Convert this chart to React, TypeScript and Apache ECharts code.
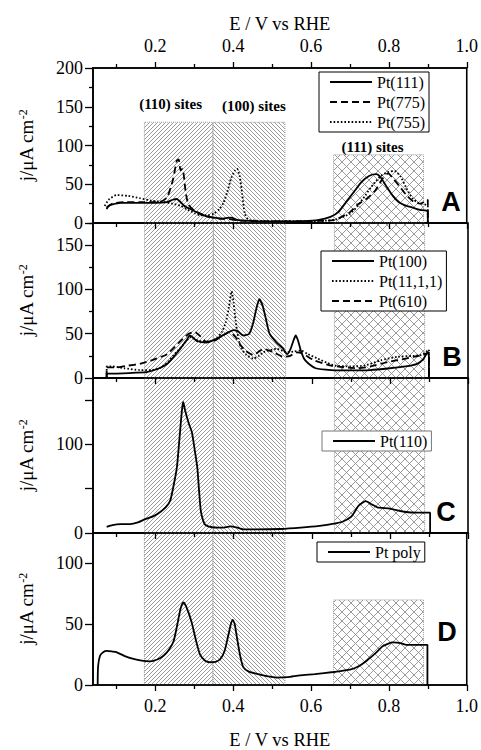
import React, { useEffect, useRef } from 'react';
import * as echarts from 'echarts';

// x axis: E / V vs RHE
const xMin = 0.04;
const xMax = 1.0;
const xMajor = [0.2, 0.4, 0.6, 0.8, 1.0];
const xMinor = [0.1, 0.3, 0.5, 0.7, 0.9];

// y axes, one per panel (A-D)
const panelLetters = ['A', 'B', 'C', 'D'];
const yMax = [200, 175, 175, 125];
const yMajor = [[0, 50, 100, 150, 200], [0, 50, 100, 150], [0, 50, 100, 150], [0, 50, 100]];
const yLabels = [[0, 50, 100, 150, 200], [0, 50, 100, 150], [0, 100], [0, 50, 100]];
const yMinor = [[25, 75, 125, 175], [25, 75, 125, 175], [], []];

// site regions
const siteNames = ['(110) sites', '(100) sites', '(111) sites'];
const siteFrom = [0.172, 0.348, 0.658];
const siteTo = [0.348, 0.533, 0.889];
const siteTopA = [130, 130, 88];
const siteTopD: (number | null)[] = [null, null, 70];

// panel A
const pt111 = [
  [0.075, 18], [0.08, 22], [0.09, 24], [0.11, 26], [0.15, 26], [0.2, 26], [0.23, 27], [0.245, 30],
  [0.255, 31], [0.265, 27], [0.275, 22], [0.29, 18], [0.31, 13], [0.33, 9], [0.35, 7], [0.37, 5.5],
  [0.385, 6.5], [0.395, 7], [0.41, 4], [0.43, 3], [0.5, 2], [0.58, 2.5], [0.62, 4], [0.65, 8],
  [0.67, 14], [0.69, 27], [0.71, 40], [0.73, 53], [0.75, 61], [0.768, 63], [0.78, 58], [0.795, 46],
  [0.81, 35], [0.825, 27], [0.84, 23], [0.86, 20], [0.88, 17], [0.9, 15], [0.9, 0],
];
const pt775 = [
  [0.075, 20], [0.09, 25], [0.12, 27], [0.17, 27], [0.21, 27], [0.23, 33], [0.245, 55], [0.255, 80],
  [0.26, 82], [0.265, 68], [0.27, 70], [0.278, 40], [0.285, 24], [0.3, 16], [0.33, 9], [0.36, 6],
  [0.39, 5], [0.42, 3], [0.5, 2], [0.6, 2.5], [0.66, 4], [0.7, 14], [0.72, 24], [0.745, 32],
  [0.765, 42], [0.785, 58], [0.798, 64], [0.81, 58], [0.828, 47], [0.845, 36], [0.862, 28],
  [0.88, 25], [0.893, 28], [0.9, 30], [0.9, 0],
];
const pt755 = [
  [0.07, 22], [0.08, 30], [0.1, 36], [0.13, 35], [0.16, 32], [0.19, 29], [0.22, 27], [0.245, 25],
  [0.265, 22], [0.28, 18], [0.3, 13], [0.315, 10], [0.335, 10], [0.35, 12], [0.365, 18], [0.375, 26],
  [0.385, 40], [0.395, 58], [0.405, 68], [0.41, 70], [0.417, 60], [0.423, 38], [0.43, 12], [0.44, 4],
  [0.5, 2.5], [0.6, 2.5], [0.66, 4], [0.7, 12], [0.72, 22], [0.74, 36], [0.76, 50], [0.78, 61],
  [0.8, 66], [0.815, 67], [0.83, 60], [0.845, 45], [0.86, 32], [0.875, 26], [0.9, 22], [0.9, 0],
];

// panel B
const pt100 = [
  [0.075, 0], [0.075, 5], [0.1, 5], [0.15, 6], [0.18, 7], [0.21, 11], [0.23, 16], [0.245, 23],
  [0.26, 31], [0.27, 37], [0.28, 43], [0.288, 48], [0.295, 46], [0.305, 42], [0.33, 40], [0.355, 44],
  [0.38, 50], [0.4, 54], [0.41, 53], [0.425, 48], [0.44, 50], [0.45, 62], [0.458, 78], [0.466, 89],
  [0.474, 82], [0.482, 68], [0.492, 50], [0.51, 40], [0.525, 34], [0.537, 27], [0.545, 32],
  [0.553, 42], [0.559, 48], [0.565, 42], [0.572, 31], [0.58, 22], [0.59, 17], [0.61, 11], [0.65, 9],
  [0.7, 8.5], [0.75, 9], [0.8, 11], [0.84, 13], [0.87, 16], [0.885, 21], [0.897, 29], [0.9, 24], [0.9, 0],
];
const pt1111 = [
  [0.075, 0], [0.075, 13], [0.09, 13], [0.12, 11], [0.16, 9], [0.19, 9], [0.21, 11], [0.23, 17],
  [0.245, 25], [0.27, 37], [0.29, 46], [0.31, 42], [0.33, 41], [0.355, 44], [0.37, 52], [0.38, 63],
  [0.388, 80], [0.395, 98], [0.4, 85], [0.405, 65], [0.412, 45], [0.42, 33], [0.433, 26], [0.45, 22],
  [0.465, 25], [0.476, 29], [0.51, 33], [0.536, 29], [0.555, 30], [0.572, 31], [0.59, 27], [0.615, 22],
  [0.64, 17], [0.66, 14], [0.7, 13], [0.735, 14], [0.777, 20], [0.82, 24], [0.86, 25], [0.88, 26],
  [0.9, 32], [0.9, 0],
];
const pt610 = [
  [0.075, 0], [0.075, 12], [0.1, 12], [0.13, 14], [0.16, 16], [0.19, 20], [0.23, 27], [0.26, 40],
  [0.285, 50], [0.3, 52], [0.315, 47], [0.33, 41], [0.35, 42], [0.365, 46], [0.39, 52], [0.405, 46],
  [0.418, 37], [0.43, 31], [0.45, 26], [0.465, 30], [0.476, 33], [0.502, 29], [0.527, 24], [0.545, 25],
  [0.56, 29], [0.575, 28], [0.606, 20], [0.649, 14], [0.717, 11], [0.75, 13], [0.794, 18], [0.83, 21],
  [0.862, 24], [0.885, 26], [0.9, 29], [0.9, 0],
];

// panel C
const pt110 = [
  [0.075, 7], [0.09, 9], [0.11, 10], [0.135, 10], [0.155, 12], [0.175, 16], [0.195, 19], [0.213, 24],
  [0.228, 30], [0.238, 37], [0.247, 55], [0.255, 75], [0.262, 110], [0.268, 140], [0.271, 148],
  [0.276, 138], [0.285, 124], [0.293, 114], [0.3, 95], [0.307, 74], [0.312, 45], [0.316, 25],
  [0.322, 14], [0.328, 9], [0.345, 6.5], [0.37, 6], [0.392, 7.5], [0.41, 6], [0.426, 4], [0.46, 4],
  [0.52, 4.5], [0.572, 6], [0.62, 8], [0.657, 10.5], [0.68, 13], [0.7, 18], [0.71, 24], [0.72, 31],
  [0.738, 36], [0.755, 32], [0.768, 29], [0.8, 27.5], [0.837, 24], [0.87, 23], [0.903, 23], [0.903, 0],
];

// panel D
const ptPoly = [
  [0.052, 0], [0.053, 15], [0.058, 24], [0.066, 27], [0.076, 28], [0.09, 27.5], [0.1, 27], [0.12, 24],
  [0.144, 21.4], [0.165, 20], [0.187, 19.5], [0.205, 21], [0.221, 24], [0.235, 29], [0.247, 36],
  [0.258, 52], [0.265, 63], [0.272, 68], [0.28, 64], [0.293, 52], [0.305, 36], [0.315, 25], [0.328, 20],
  [0.341, 18.7], [0.355, 19], [0.367, 21.4], [0.378, 28], [0.388, 41.5], [0.394, 50], [0.399, 53.5],
  [0.404, 50], [0.41, 38.5], [0.418, 24], [0.426, 14.7], [0.44, 11], [0.46, 9.3], [0.49, 7],
  [0.512, 6.1], [0.54, 6.5], [0.572, 8], [0.61, 9], [0.657, 10.7], [0.7, 12.6], [0.72, 15], [0.743, 20],
  [0.765, 26], [0.785, 32], [0.81, 35], [0.83, 34.5], [0.845, 33], [0.87, 33], [0.899, 33], [0.899, 0],
];

const panelSeries = [
  [
    { name: 'Pt(111)', data: pt111, dash: 'solid' },
    { name: 'Pt(775)', data: pt775, dash: 'dashed' },
    { name: 'Pt(755)', data: pt755, dash: 'dotted' },
  ],
  [
    { name: 'Pt(100)', data: pt100, dash: 'solid' },
    { name: 'Pt(11,1,1)', data: pt1111, dash: 'dotted' },
    { name: 'Pt(610)', data: pt610, dash: 'dashed' },
  ],
  [{ name: 'Pt(110)', data: pt110, dash: 'solid' }],
  [{ name: 'Pt poly', data: ptPoly, dash: 'solid' }],
];

// layout
const gridLeft = 93;
const gridRight = 13;
const panelTop = [68, 223, 378, 533];
const panelH = 155;
const legendPos = [[319, 72], [321, 251], [322, 431], [317, 542]];
const letterPos = [[451, 202], [452, 357], [446, 512], [447, 632]];
const siteLabelOffset = [[-8, -5], [5, -3], [-6, 5]];

const serif = 'Liberation Serif, serif';
const dashTypes: Record<string, any> = { solid: 'solid', dashed: [7, 4], dotted: [1.6, 2] };

// hatch fills for the site regions
const makeHatch = (kind: string) => {
  const size = kind === 'x' ? 9 : 4;
  const c = document.createElement('canvas');
  c.width = size;
  c.height = size;
  const ctx = c.getContext('2d')!;
  ctx.strokeStyle = '#8e8e8e';
  ctx.lineWidth = 0.9;
  const fwd = () => {
    ctx.beginPath();
    ctx.moveTo(-1, size + 1); ctx.lineTo(size + 1, -1);
    ctx.moveTo(-1, 1); ctx.lineTo(1, -1);
    ctx.moveTo(size - 1, size + 1); ctx.lineTo(size + 1, size - 1);
    ctx.stroke();
  };
  const back = () => {
    ctx.beginPath();
    ctx.moveTo(-1, -1); ctx.lineTo(size + 1, size + 1);
    ctx.moveTo(size - 1, -1); ctx.lineTo(size + 1, 1);
    ctx.moveTo(-1, size - 1); ctx.lineTo(1, size + 1);
    ctx.stroke();
  };
  if (kind === '/' || kind === 'x') fwd();
  if (kind === '\\' || kind === 'x') back();
  return { image: c, repeat: 'repeat' };
};

const App: React.FC = () => {
  const chartRef = useRef<HTMLDivElement>(null);

  useEffect(() => {
    document.body.style.margin = '0';
    if (!chartRef.current) return;
    const chart = echarts.init(chartRef.current, undefined, { renderer: 'svg' });

    const hatches = [makeHatch('/'), makeHatch('\\'), makeHatch('x')];
    const tickStyle = { color: '#000', width: 1.3 };
    const labelFont = { fontFamily: serif, fontSize: 18, color: '#000' };
    const nameFont = { fontFamily: serif, fontSize: 18.5, color: '#000' };

    const xAxis: any[] = [];
    const yAxis: any[] = [];
    const series: any[] = [];

    const makeX = (gridIndex: number, position: string, values: number[], len: number, extra: any = {}) => ({
      type: 'value',
      gridIndex,
      position,
      min: xMin,
      max: xMax,
      z: 10,
      axisLine: { show: values === xMajor, onZero: false, lineStyle: { color: '#000', width: 1.6 } },
      axisTick: { show: true, customValues: values, length: len, lineStyle: tickStyle },
      axisLabel: { show: false, customValues: values },
      splitLine: { show: false },
      ...extra,
    });

    panelTop.forEach((_, i) => {
      const last = i === panelTop.length - 1;
      xAxis.push(
        makeX(i, 'bottom', xMajor, 6, last
          ? {
              name: 'E / V vs RHE',
              nameLocation: 'middle',
              nameGap: 45,
              nameTextStyle: nameFont,
              axisLabel: { show: true, customValues: xMajor, margin: 12, formatter: (v: number) => v.toFixed(1), ...labelFont },
            }
          : {}),
      );
      xAxis.push(makeX(i, 'bottom', xMinor, 4));

      yAxis.push({
        type: 'value',
        gridIndex: i,
        position: 'left',
        min: 0,
        max: yMax[i],
        z: 10,
        axisLine: { show: true, onZero: false, lineStyle: { color: '#000', width: 1.6 } },
        axisTick: { show: true, customValues: yMajor[i], length: 8, lineStyle: tickStyle },
        axisLabel: { show: true, customValues: yLabels[i], margin: 10, ...labelFont },
        splitLine: { show: false },
        name: '{b|j/μA cm}{s|-2}',
        nameLocation: 'middle',
        nameRotate: 90,
        nameGap: 57,
        nameTextStyle: {
          rich: {
            b: { fontFamily: serif, fontSize: 19, color: '#000' },
            s: { fontFamily: serif, fontSize: 12, color: '#000', verticalAlign: 'top' },
          },
        },
      });
      yAxis.push({
        type: 'value',
        gridIndex: i,
        position: 'left',
        min: 0,
        max: yMax[i],
        axisLine: { show: false },
        axisTick: yMinor[i].length
          ? { show: true, customValues: yMinor[i], length: 4, lineStyle: tickStyle }
          : { show: false },
        axisLabel: { show: false },
        splitLine: { show: false },
      });

      // hatched site regions
      series.push({
        type: 'line',
        data: [],
        xAxisIndex: 2 * i,
        yAxisIndex: 2 * i,
        z: 1,
        silent: true,
        markArea: {
          silent: true,
          itemStyle: { borderColor: '#9a9a9a', borderWidth: 1, borderType: 'dotted' },
          label: {
            show: i === 0,
            position: 'top',
            color: '#000',
            fontFamily: serif,
            fontWeight: 'bold',
            fontSize: 15,
          },
          data: siteNames.map((name, k) => {
            const top = i === 0 ? siteTopA[k] : i === 3 ? siteTopD[k] : null;
            const a: any = { name, xAxis: siteFrom[k], itemStyle: { color: hatches[k] }, label: { offset: siteLabelOffset[k] } };
            const b: any = { xAxis: siteTo[k] };
            if (top != null) {
              a.yAxis = 0;
              b.yAxis = top;
            }
            return [a, b];
          }),
        },
      });

      panelSeries[i].forEach((s) => {
        series.push({
          name: s.name,
          type: 'line',
          data: s.data,
          xAxisIndex: 2 * i,
          yAxisIndex: 2 * i,
          symbol: 'none',
          smooth: 0.2,
          z: 3,
          lineStyle: { color: '#000', width: 1.8, type: dashTypes[s.dash] },
          itemStyle: { color: '#000' },
          emphasis: { disabled: true },
        });
      });
    });

    // top axis of panel A
    xAxis.push(
      makeX(0, 'top', xMajor, 6, {
        name: 'E / V vs RHE',
        nameLocation: 'middle',
        nameGap: 35,
        nameTextStyle: nameFont,
        axisLabel: { show: true, customValues: xMajor, margin: 13, formatter: (v: number) => v.toFixed(1), ...labelFont },
      }),
    );
    xAxis.push(makeX(0, 'top', xMinor, 4));

    const option: any = {
      animation: false,
      backgroundColor: '#fff',
      textStyle: { fontFamily: serif },
      grid: panelTop.map((top) => ({
        left: gridLeft,
        right: gridRight,
        top,
        height: panelH,
        show: true,
        borderColor: '#000',
        borderWidth: 1.6,
        backgroundColor: 'transparent',
      })),
      legend: legendPos.map((p, i) => ({
        left: p[0],
        top: p[1],
        orient: 'vertical',
        data: panelSeries[i].map((s) => s.name),
        itemWidth: 42,
        itemHeight: 14,
        itemGap: 4,
        padding: [2, 4, 2, 10],
        borderColor: i === 2 ? '#777' : '#000',
        borderWidth: 1,
        borderRadius: 0,
        backgroundColor: '#fff',
        selectedMode: false,
        itemStyle: { color: 'rgba(0,0,0,0)', borderColor: 'rgba(0,0,0,0)', borderWidth: 0, opacity: 0 },
        textStyle: { fontFamily: serif, fontSize: 16, color: '#000' },
      })),
      graphic: panelLetters.map((t, i) => ({
        type: 'text',
        x: letterPos[i][0],
        y: letterPos[i][1],
        z: 20,
        style: {
          text: t,
          fontFamily: 'Liberation Sans, Arial, sans-serif',
          fontWeight: 'bold',
          fontSize: 27,
          fill: '#000',
          align: 'center',
          verticalAlign: 'middle',
        },
      })),
      xAxis,
      yAxis,
      series,
    };

    chart.setOption(option);

    return () => {
      chart.dispose();
    };
  }, []);

  return <div ref={chartRef} style={{ width: '481px', height: '750px' }} />;
};

export default App;
